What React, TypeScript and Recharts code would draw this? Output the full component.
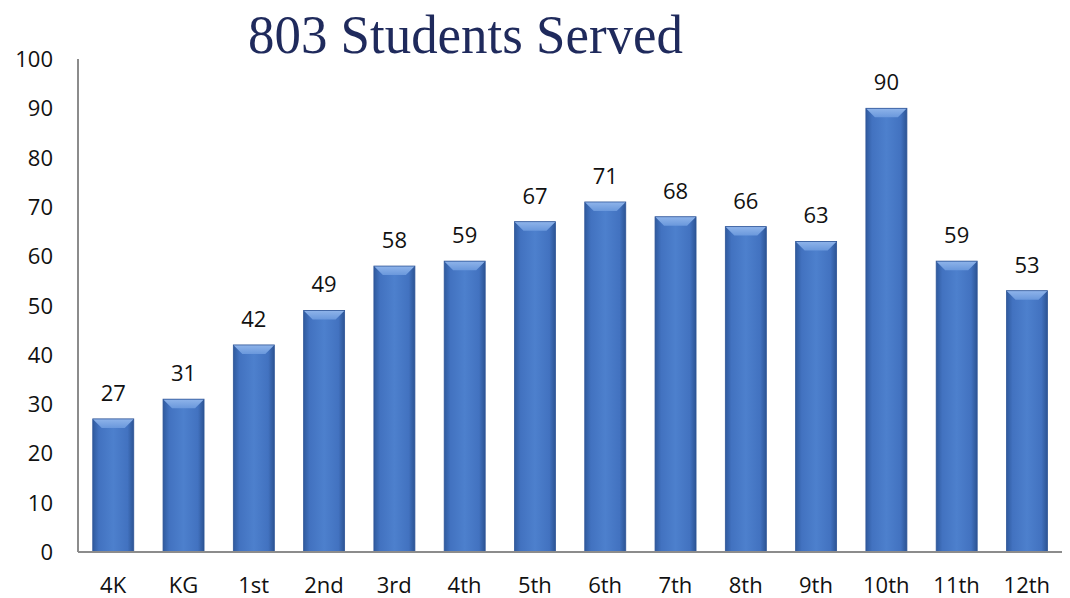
import React from "react";
import { BarChart, Bar, XAxis, YAxis, LabelList } from "recharts";

const grades = ["4K", "KG", "1st", "2nd", "3rd", "4th", "5th", "6th", "7th", "8th", "9th", "10th", "11th", "12th"];
const students = [27, 31, 42, 49, 58, 59, 67, 71, 68, 66, 63, 90, 59, 53];
const yTicks = [0, 10, 20, 30, 40, 50, 60, 70, 80, 90, 100];
const title = "803 Students Served";

const data = grades.map((g, i) => ({ grade: g, value: students[i] }));

const FONT = "'Open Sans', 'Liberation Sans', sans-serif";

const BevelBar = (props: any) => {
  const { x, y, width, height } = props;
  if (!height || height <= 0) return null;
  const d = Math.min(9, height / 2);
  return (
    <g>
      <rect x={x} y={y} width={width} height={height} fill="url(#barGrad)" />
      <polygon
        points={`${x},${y} ${x + width},${y} ${x + width - d},${y + d} ${x + d},${y + d}`}
        fill="url(#bevelGrad)"
      />
      <rect x={x} y={y} width={width} height={height} fill="none" stroke="#2f5597" strokeWidth={0.8} />
    </g>
  );
};

const XTick = (props: any) => {
  const { x, y, payload } = props;
  return (
    <text x={x} y={y + 33} textAnchor="middle" fontSize={22} fontFamily={FONT} fill="#111">
      {payload.value}
    </text>
  );
};

const YTick = (props: any) => {
  const { y, payload } = props;
  return (
    <text x={53} y={y + 8} textAnchor="end" fontSize={22} fontFamily={FONT} fill="#111">
      {payload.value}
    </text>
  );
};

export default function App() {
  return (
    <div style={{ position: "absolute", left: 0, top: 0, width: 1070, height: 598, background: "#fff" }}>
      <svg width={1070} height={70} style={{ position: "absolute", left: 0, top: 0 }}>
        <text
          x={248}
          y={53}
          fontSize={54}
          fontFamily="'Liberation Serif', 'DejaVu Serif', serif"
          fill="#1f2a5c"
          textLength={435}
          lengthAdjust="spacingAndGlyphs"
        >
          {title}
        </text>
      </svg>
      <div style={{ position: "absolute", left: 0, top: 0 }}>
        <BarChart
          width={1070}
          height={598}
          data={data}
          margin={{ top: 59, right: 8, bottom: 0, left: 0 }}
          barCategoryGap="21%"
        >
          <defs>
            <linearGradient id="barGrad" x1="0" y1="0" x2="1" y2="0">
              <stop offset="0%" stopColor="#2f5a9e" />
              <stop offset="15%" stopColor="#4272c0" />
              <stop offset="50%" stopColor="#4d80cd" />
              <stop offset="85%" stopColor="#4272c0" />
              <stop offset="100%" stopColor="#2c5494" />
            </linearGradient>
            <linearGradient id="bevelGrad" x1="0" y1="0" x2="0" y2="1">
              <stop offset="0%" stopColor="#8fb4ea" />
              <stop offset="100%" stopColor="#6a98dc" />
            </linearGradient>
          </defs>
          <XAxis
            dataKey="grade"
            height={46}
            axisLine={{ stroke: "#8c8c8c", strokeWidth: 2 }}
            tickLine={false}
            tick={<XTick />}
            interval={0}
          />
          <YAxis
            width={78}
            domain={[0, 100]}
            ticks={yTicks}
            axisLine={{ stroke: "#8c8c8c", strokeWidth: 2 }}
            tickLine={false}
            tick={<YTick />}
            interval={0}
          />
          <Bar dataKey="value" shape={<BevelBar />} isAnimationActive={false}>
            <LabelList
              dataKey="value"
              position="top"
              offset={18}
              fontSize={22}
              fontFamily={FONT}
              fill="#111"
            />
          </Bar>
        </BarChart>
      </div>
    </div>
  );
}
